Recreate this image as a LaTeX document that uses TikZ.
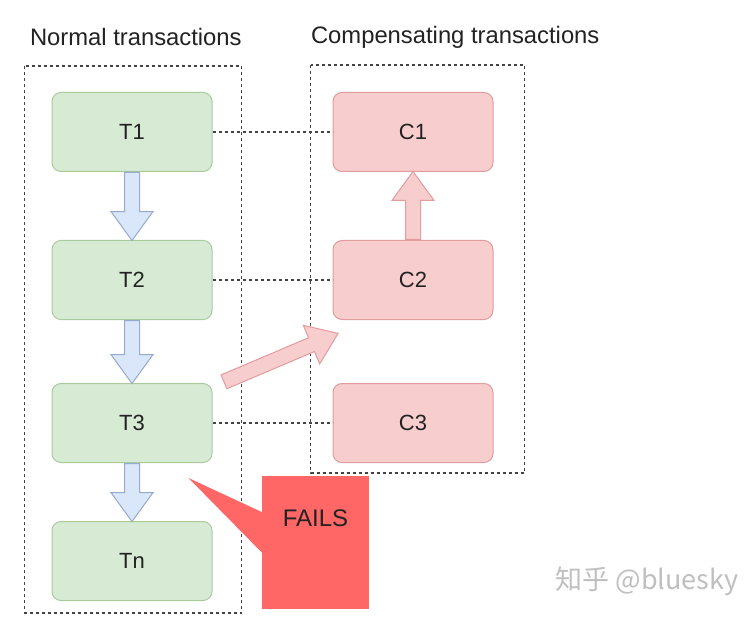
\documentclass[tikz,border=0pt]{standalone}
\usepackage{fontspec}
\setmainfont{Liberation Sans}
\newfontfamily\cjkfont{Noto Sans CJK SC}
\usetikzlibrary{positioning,calc,shapes.arrows}

\definecolor{okfill}{HTML}{D7EAD4}
\definecolor{okline}{HTML}{A9CB9C}
\definecolor{undofill}{HTML}{F8CDCE}
\definecolor{undoline}{HTML}{E29C9E}
\definecolor{flowfill}{HTML}{DAE6FA}
\definecolor{flowline}{HTML}{95AACF}
\definecolor{failfill}{HTML}{FF6666}
\definecolor{ink}{HTML}{222222}

\begin{document}
\begin{tikzpicture}[
  x=1pt, y=-1pt,
  font=\fontsize{22}{26}\selectfont,
  txbox/.style={draw=okline, fill=okfill, line width=1pt, rounded corners=9pt,
    minimum width=160pt, minimum height=79pt, text=ink},
  undobox/.style={txbox, draw=undoline, fill=undofill},
  flow/.style={single arrow, draw=flowline, fill=flowfill, line width=1pt,
    inner sep=7pt, single arrow head extend=13.5pt, single arrow tip angle=72,
    single arrow head indent=0pt, minimum width=41pt, anchor=tail},
  undoflow/.style={flow, draw=undoline, fill=undofill},
  link/.style={dashed, line width=1.1pt, draw=ink!85},
  groupbox/.style={dashed, line width=1.1pt, draw=ink!85},
  heading/.style={anchor=west, font=\fontsize{23.8}{28}\selectfont, text=ink}
]
\useasboundingbox (0,0) rectangle (747,631);

% normal transactions
\node[txbox] (T1) at (132,132) {T1};
\node[txbox, below=68pt of T1] (T2) {T2};
\node[txbox, below=63pt of T2] (T3) {T3};
\node[txbox, below=58pt of T3] (Tn) {Tn};

% compensating transactions
\node[undobox, right=120pt of T1] (C1) {C1};
\node[undobox, right=120pt of T2] (C2) {C2};
\node[undobox, right=120pt of T3] (C3) {C3};

\draw[groupbox] ($(T1.north west)+(-27,-26)$) rectangle ($(Tn.south east)+(29,12)$);
\draw[groupbox] ($(C1.north west)+(-22,-27)$) rectangle ($(C3.south east)+(31,10)$);

\node[heading] (normal) at ($(T1.north west)+(-25,-55)$) {Normal transactions};
\node[heading] (comp) at ($(C1.north west)+(-25,-55)$) {Compensating transactions};

\foreach \a/\l in {T1/68, T2/63, T3/58}
  \node[flow, shape border rotate=270, minimum height=\l pt] at (\a.south) {};
\node[undoflow, shape border rotate=90, minimum height=68pt] at (C2.north) {};
\node[undoflow, rotate=23, minimum height=124pt] at ($(T3.north east)+(11,-1)$) {};

\foreach \a/\b in {T1/C1, T2/C2, T3/C3}
  \draw[link] (\a.east) -- (\b.west);

% failure callout
\node[fill=failfill, minimum width=107pt, minimum height=133pt,
  label={[yshift=24pt, text=ink, font=\fontsize{24}{28}\selectfont]center:FAILS}] (fail) at (315.5,542.5) {};
\coordinate (hit) at ($(T3.south east)+(-24,15)$);
\fill[failfill] (hit) -- ($(fail.west)+(1,-30)$) -- ($(fail.west)+(1,11)$) -- cycle;

\node[text=black!25, font=\cjkfont\fontsize{27}{31}\selectfont] (mark) at (647,581) {知乎 @bluesky};
\end{tikzpicture}
\end{document}
